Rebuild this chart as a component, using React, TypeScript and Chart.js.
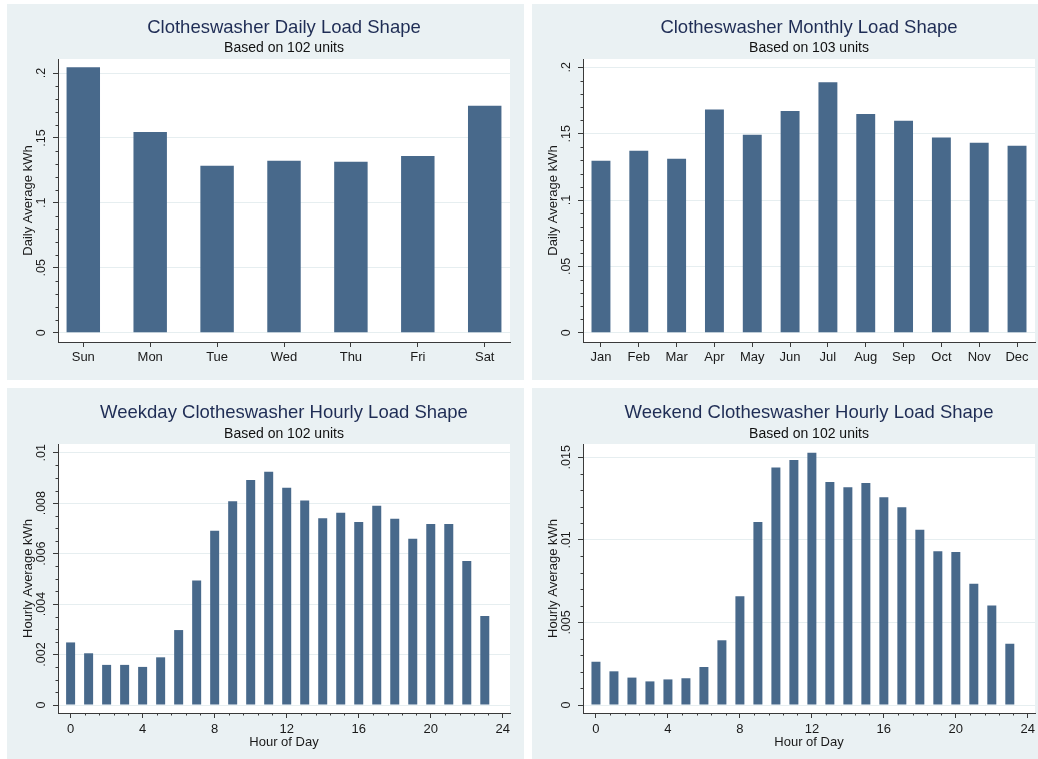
import React, { useEffect, useRef } from 'react';
import { Chart, registerables } from 'chart.js';

Chart.register(...registerables);
Chart.defaults.font.family = '"Liberation Sans", Arial, Helvetica, sans-serif';

// ---------- data ----------
const days = ['Sun', 'Mon', 'Tue', 'Wed', 'Thu', 'Fri', 'Sat'];
const dailyKwh = [0.2044, 0.1546, 0.1286, 0.1325, 0.1317, 0.1361, 0.1748];

const months = ['Jan', 'Feb', 'Mar', 'Apr', 'May', 'Jun', 'Jul', 'Aug', 'Sep', 'Oct', 'Nov', 'Dec'];
const monthlyKwh = [0.1296, 0.1372, 0.1312, 0.1683, 0.1492, 0.1671, 0.1887, 0.1648, 0.1598, 0.1472, 0.1432, 0.141];

const hours = [0, 1, 2, 3, 4, 5, 6, 7, 8, 9, 10, 11, 12, 13, 14, 15, 16, 17, 18, 19, 20, 21, 22, 23];
const weekdayKwh = [
  0.00248, 0.00205, 0.00159, 0.00159, 0.00151, 0.00189, 0.00297, 0.00493,
  0.00691, 0.00808, 0.00892, 0.00925, 0.00861, 0.00811, 0.0074, 0.00762,
  0.00725, 0.0079, 0.00738, 0.00659, 0.00717, 0.00717, 0.00571, 0.00353,
];
const weekendKwh = [
  0.00262, 0.00204, 0.00166, 0.00143, 0.00155, 0.00162, 0.0023, 0.00392,
  0.00658, 0.01108, 0.01439, 0.01484, 0.01528, 0.01351, 0.01318, 0.01345,
  0.01258, 0.01197, 0.01062, 0.00931, 0.00927, 0.00735, 0.00602, 0.00371,
];

const dayTicks = [0, 1, 2, 3, 4, 5, 6];
const monthTicks = [0, 1, 2, 3, 4, 5, 6, 7, 8, 9, 10, 11];
const hourTicks = [0, 4, 8, 12, 16, 20, 24];
const dailyYTicks = [0, 0.05, 0.1, 0.15, 0.2];
const weekdayYTicks = [0, 0.002, 0.004, 0.006, 0.008, 0.01];
const weekendYTicks = [0, 0.005, 0.01, 0.015];

// ---------- styles ----------
const PANEL_BG = '#eaf1f3';
const BAR = '#48698b';
const AXIS = '#3a3a3a';
const GRID = '#e6eef0';
const TITLE_COLOR = '#1f2d55';
const TEXT = '#1a1a1a';

const minorBetween = (majors: number[], parts: number) =>
  majors.slice(0, -1).flatMap((m, i) =>
    Array.from({ length: parts - 1 }, (_, k) => m + ((k + 1) * (majors[i + 1] - m)) / parts)
  );

const fmtY = (v: number) => (v === 0 ? '0' : String(v).replace(/^0\./, '.'));

interface Area { l: number; r: number; t: number; b: number }
interface PanelCfg {
  left: number; top: number; w: number; h: number; area: Area;
  title: string; subtitle: string; yTitle: string; xTitle?: string;
  xs: number[]; values: number[]; xLabels?: string[];
  xTicks: number[]; xMin: number; xMax: number; xMinor: number[];
  yTicks: number[]; yMin: number; yMax: number; yMinor: number[];
  titlePad: [number, number]; subPad: [number, number];
  xTickPad: number; yTickPad: number;
}

const panels: PanelCfg[] = [
  {
    left: 7, top: 4, w: 517, h: 376, area: { l: 51, r: 503, t: 55, b: 338 },
    title: 'Clotheswasher Daily Load Shape', subtitle: 'Based on 102 units', yTitle: 'Daily Average kWh',
    xs: dayTicks, values: dailyKwh, xLabels: days,
    xTicks: dayTicks, xMin: -0.378, xMax: 6.378, xMinor: [],
    yTicks: dailyYTicks, yMin: -0.00716, yMax: 0.2108, yMinor: minorBetween(dailyYTicks, 5),
    titlePad: [12.4, 0], subPad: [1.4, 2.2], xTickPad: 2.5, yTickPad: 2.5,
  },
  {
    left: 532, top: 4, w: 506, h: 376, area: { l: 51, r: 503, t: 55, b: 338 },
    title: 'Clotheswasher Monthly Load Shape', subtitle: 'Based on 103 units', yTitle: 'Daily Average kWh',
    xs: monthTicks, values: monthlyKwh, xLabels: months,
    xTicks: monthTicks, xMin: -0.475, xMax: 11.475, xMinor: [],
    yTicks: dailyYTicks, yMin: -0.007, yMax: 0.2063, yMinor: minorBetween(dailyYTicks, 5),
    titlePad: [12.4, 0], subPad: [1.4, 2.2], xTickPad: 2.5, yTickPad: 2.5,
  },
  {
    left: 7, top: 388, w: 517, h: 371, area: { l: 51, r: 503, t: 56, b: 325 },
    title: 'Weekday Clotheswasher Hourly Load Shape', subtitle: 'Based on 102 units', yTitle: 'Hourly Average kWh',
    xTitle: 'Hour of Day',
    xs: hours, values: weekdayKwh,
    xTicks: hourTicks, xMin: -0.7, xMax: 24.4, xMinor: minorBetween(hourTicks, 5),
    yTicks: weekdayYTicks, yMin: -0.000317, yMax: 0.010345, yMinor: minorBetween(weekdayYTicks, 4),
    titlePad: [13.7, 0], subPad: [1.8, 1.5], xTickPad: 4, yTickPad: -1,
  },
  {
    left: 532, top: 388, w: 506, h: 371, area: { l: 51, r: 503, t: 56, b: 325 },
    title: 'Weekend Clotheswasher Hourly Load Shape', subtitle: 'Based on 102 units', yTitle: 'Hourly Average kWh',
    xTitle: 'Hour of Day',
    xs: hours, values: weekendKwh,
    xTicks: hourTicks, xMin: -0.72, xMax: 24.4, xMinor: minorBetween(hourTicks, 5),
    yTicks: weekendYTicks, yMin: -0.000484, yMax: 0.015806, yMinor: minorBetween(weekendYTicks, 5),
    titlePad: [13.7, 0], subPad: [1.8, 1.5], xTickPad: 4, yTickPad: -1,
  },
];

function Panel({ cfg }: { cfg: PanelCfg }) {
  const ref = useRef<HTMLCanvasElement | null>(null);

  useEffect(() => {
    if (!ref.current) return;
    const c = cfg;
    const bgPlugin = {
      id: 'panelBg',
      beforeDraw(chart: any) {
        const { ctx, chartArea: a } = chart;
        ctx.save();
        ctx.fillStyle = PANEL_BG;
        ctx.fillRect(0, 0, chart.width, chart.height);
        ctx.fillStyle = '#ffffff';
        ctx.fillRect(a.left, a.top, a.right - a.left, a.bottom - a.top);
        ctx.restore();
      },
    };
    const minorPlugin = {
      id: 'minorTicks',
      afterDraw(chart: any) {
        const { ctx, chartArea: a, scales } = chart;
        ctx.save();
        ctx.strokeStyle = AXIS;
        ctx.lineWidth = 1;
        c.yMinor.forEach((v) => {
          const py = Math.round(scales.y.getPixelForValue(v)) + 0.5;
          ctx.beginPath();
          ctx.moveTo(a.left - 2.5, py);
          ctx.lineTo(a.left, py);
          ctx.stroke();
        });
        c.xMinor.forEach((v) => {
          const px = Math.round(scales.x.getPixelForValue(v)) + 0.5;
          ctx.beginPath();
          ctx.moveTo(px, a.bottom);
          ctx.lineTo(px, a.bottom + 2.5);
          ctx.stroke();
        });
        ctx.restore();
      },
    };

    const chart = new Chart(ref.current, {
      type: 'bar',
      data: {
        datasets: [
          {
            data: c.xs.map((x, i) => ({ x, y: c.values[i] })),
            backgroundColor: BAR,
            borderWidth: 0,
            barPercentage: 0.5,
            categoryPercentage: 1,
          },
        ],
      },
      options: {
        responsive: false,
        animation: false,
        events: [],
        layout: { padding: { left: 0, top: 0, bottom: 0, right: c.w - c.area.r } },
        plugins: {
          legend: { display: false },
          tooltip: { enabled: false },
          title: {
            display: true,
            text: c.title,
            color: TITLE_COLOR,
            fullSize: false,
            font: { size: 18.5, weight: 'normal' },
            padding: { top: c.titlePad[0], bottom: c.titlePad[1] },
          },
          subtitle: {
            display: true,
            text: c.subtitle,
            color: '#111',
            fullSize: false,
            font: { size: 14, weight: 'normal' },
            padding: { top: c.subPad[0], bottom: c.subPad[1] },
          },
        },
        scales: {
          x: {
            type: 'linear',
            min: c.xMin,
            max: c.xMax,
            offset: false,
            afterBuildTicks: (s: any) => {
              s.ticks = c.xTicks.map((v) => ({ value: v }));
            },
            afterFit: (s: any) => {
              s.height = c.h - c.area.b;
              s.paddingLeft = 0;
              s.paddingRight = 0;
            },
            ticks: {
              autoSkip: false,
              maxRotation: 0,
              minRotation: 0,
              padding: c.xTickPad,
              color: TEXT,
              font: { size: 13 },
              callback: (v: any, i: number) => (c.xLabels ? c.xLabels[i] : String(c.xTicks[i])),
            },
            grid: {
              display: true,
              offset: false,
              drawOnChartArea: false,
              drawTicks: true,
              tickLength: 5,
              tickColor: AXIS,
              tickWidth: 1,
            },
            border: { display: true, color: AXIS, width: 1 },
            title: {
              display: !!c.xTitle,
              text: c.xTitle || '',
              color: TEXT,
              font: { size: 13 },
              padding: { top: 0, bottom: 8.9 },
            },
          },
          y: {
            type: 'linear',
            min: c.yMin,
            max: c.yMax,
            beginAtZero: false,
            afterBuildTicks: (s: any) => {
              s.ticks = c.yTicks.map((v) => ({ value: v }));
            },
            afterFit: (s: any) => {
              s.width = c.area.l;
              s.paddingTop = 0;
              s.paddingBottom = 0;
            },
            ticks: {
              autoSkip: false,
              minRotation: 90,
              maxRotation: 90,
              crossAlign: 'center',
              padding: c.yTickPad,
              color: TEXT,
              font: { size: 12.5 },
              callback: (v: any) => fmtY(Number(v)),
            },
            grid: {
              display: true,
              drawOnChartArea: true,
              drawTicks: true,
              tickLength: 5,
              color: GRID,
              lineWidth: 1,
              tickColor: AXIS,
              tickWidth: 1,
            },
            border: { display: true, color: AXIS, width: 1 },
            title: {
              display: true,
              text: c.yTitle,
              color: TEXT,
              font: { size: 13 },
              padding: { top: 13.2, bottom: 0 },
            },
          },
        },
      } as any,
      plugins: [bgPlugin, minorPlugin],
    });
    return () => chart.destroy();
  }, [cfg]);

  return (
    <canvas
      ref={ref}
      width={cfg.w}
      height={cfg.h}
      style={{ position: 'absolute', left: cfg.left, top: cfg.top, width: cfg.w, height: cfg.h, display: 'block' }}
    />
  );
}

export default function App() {
  return (
    <div
      style={{
        position: 'absolute',
        left: 0,
        top: 0,
        width: 1038,
        height: 759,
        background: '#ffffff',
        overflow: 'hidden',
      }}
    >
      {panels.map((p, i) => (
        <Panel key={i} cfg={p} />
      ))}
    </div>
  );
}
